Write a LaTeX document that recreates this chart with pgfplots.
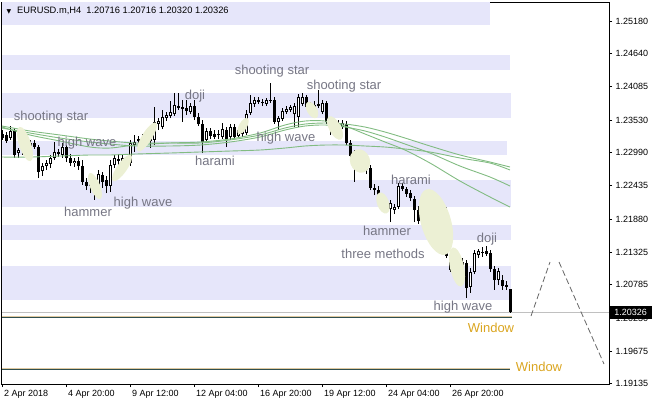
\documentclass[border=0pt]{standalone}
\usepackage{fontspec}
\setmainfont{Liberation Sans}
\newfontfamily\dejavu{DejaVu Sans}
\usepackage{pgfplots}
\pgfplotsset{compat=1.18}
\usepackage{pgfplotstable}

\definecolor{band}{RGB}{230,230,250}
\definecolor{patch}{RGB}{236,240,212}
\definecolor{maline}{RGB}{130,188,130}
\definecolor{lbl}{RGB}{118,118,132}
\definecolor{win}{RGB}{218,165,32}
\definecolor{wintan}{RGB}{222,200,160}
\definecolor{windark}{RGB}{47,79,79}
\definecolor{pline}{RGB}{192,192,192}

% H4 bars: index, open, high, low, close
\pgfplotstableread{
i o h l c
0 1.23297 1.23363 1.23197 1.23230
1 1.23280 1.23330 1.23147 1.23180
2 1.23230 1.23430 1.23197 1.23347
3 1.23347 1.23397 1.22897 1.22947
4 1.22980 1.23063 1.22897 1.23030
5 1.23013 1.23097 1.22947 1.23063
6 1.23047 1.23097 1.22980 1.23013
7 1.23013 1.23197 1.22980 1.23147
8 1.23147 1.23197 1.23047 1.23080
9 1.23080 1.23113 1.22563 1.22663
10 1.22680 1.22813 1.22597 1.22763
11 1.22763 1.22863 1.22697 1.22813
12 1.22797 1.22947 1.22730 1.22897
13 1.22897 1.23163 1.22863 1.22997
14 1.22997 1.23047 1.22913 1.22963
15 1.22947 1.23147 1.22897 1.23080
16 1.23080 1.23113 1.22830 1.22897
17 1.22897 1.22963 1.22763 1.22813
18 1.22813 1.22897 1.22747 1.22847
19 1.22847 1.22913 1.22697 1.22763
20 1.22763 1.22863 1.22447 1.22497
21 1.22497 1.22563 1.22363 1.22430
22 1.22430 1.22513 1.22313 1.22463
23 1.22397 1.22497 1.22197 1.22430
24 1.22447 1.22697 1.22397 1.22630
25 1.22613 1.22663 1.22397 1.22497
26 1.22530 1.22597 1.22313 1.22430
27 1.22430 1.22863 1.22330 1.22780
28 1.22780 1.22947 1.22730 1.22897
29 1.22880 1.22963 1.22763 1.22847
30 1.22847 1.22947 1.22613 1.22897
31 1.22763 1.22897 1.22697 1.22863
32 1.22813 1.23197 1.22763 1.23147
33 1.23113 1.23280 1.22997 1.23163
34 1.23180 1.23263 1.23097 1.23213
35 1.23197 1.23297 1.23113 1.23247
36 1.23247 1.23313 1.23130 1.23197
37 1.23230 1.23297 1.23063 1.23180
38 1.23197 1.23747 1.23113 1.23497
39 1.23463 1.23563 1.23363 1.23513
40 1.23413 1.23697 1.23380 1.23580
41 1.23563 1.23663 1.23513 1.23613
42 1.23597 1.23847 1.23563 1.23663
43 1.23630 1.23980 1.23597 1.23780
44 1.23763 1.23980 1.23697 1.23730
45 1.23747 1.23863 1.23497 1.23713
46 1.23730 1.23863 1.23613 1.23680
47 1.23663 1.23813 1.23630 1.23763
48 1.23763 1.23863 1.23530 1.23580
49 1.23580 1.23647 1.23430 1.23463
50 1.23463 1.23530 1.22980 1.23163
51 1.23197 1.23397 1.23147 1.23347
52 1.23347 1.23397 1.23213 1.23263
53 1.23297 1.23363 1.23213 1.23247
54 1.23280 1.23363 1.23213 1.23297
55 1.23247 1.23480 1.23213 1.23380
56 1.23363 1.23413 1.23080 1.23213
57 1.23247 1.23463 1.23197 1.23413
58 1.23413 1.23463 1.23213 1.23247
59 1.23263 1.23413 1.23230 1.23363
60 1.23297 1.23463 1.23247 1.23397
61 1.23313 1.23697 1.23280 1.23630
62 1.23647 1.23947 1.23613 1.23813
63 1.23797 1.23913 1.23747 1.23863
64 1.23863 1.23913 1.23797 1.23830
65 1.23830 1.23880 1.23763 1.23813
66 1.23797 1.23897 1.23763 1.23863
67 1.23847 1.24147 1.23813 1.23863
68 1.23863 1.23913 1.23463 1.23497
69 1.23497 1.23597 1.23363 1.23563
70 1.23547 1.23730 1.23513 1.23680
71 1.23663 1.23763 1.23630 1.23713
72 1.23697 1.23780 1.23663 1.23747
73 1.23630 1.23813 1.23413 1.23763
74 1.23580 1.23963 1.23413 1.23913
75 1.23797 1.23980 1.23763 1.23913
76 1.23913 1.23947 1.23713 1.23747
77 1.23797 1.23830 1.23697 1.23730
78 1.23730 1.23847 1.23697 1.23780
79 1.23797 1.24030 1.23730 1.23763
80 1.23663 1.23863 1.23630 1.23813
81 1.23813 1.23847 1.23463 1.23497
82 1.23497 1.23563 1.23280 1.23447
83 1.23463 1.23547 1.23397 1.23480
84 1.23480 1.23530 1.23397 1.23447
85 1.23413 1.23530 1.23380 1.23480
86 1.23463 1.23513 1.23113 1.23147
87 1.23147 1.23197 1.22897 1.22930
88 1.22913 1.23030 1.22497 1.22980
89 1.22963 1.22997 1.22830 1.22863
90 1.22863 1.22913 1.22663 1.22713
91 1.22713 1.22780 1.22630 1.22697
92 1.22730 1.22780 1.22363 1.22397
93 1.22397 1.22463 1.22280 1.22363
94 1.22363 1.22430 1.22147 1.22180
95 1.22163 1.22230 1.22063 1.22113
96 1.22080 1.22180 1.22013 1.22147
97 1.22047 1.22197 1.21830 1.22147
98 1.22030 1.22130 1.21963 1.22080
99 1.22080 1.22480 1.22047 1.22430
100 1.22430 1.22480 1.22347 1.22380
101 1.22380 1.22413 1.22247 1.22297
102 1.22313 1.22363 1.22180 1.22230
103 1.22213 1.22263 1.21830 1.22030
104 1.22030 1.22097 1.21797 1.21847
105 1.21863 1.21947 1.21747 1.21830
106 1.21847 1.21897 1.21647 1.21680
107 1.21697 1.21797 1.21580 1.21630
108 1.21647 1.21763 1.21597 1.21730
109 1.21713 1.21830 1.21680 1.21780
110 1.21730 1.22063 1.21697 1.21997
111 1.22030 1.22080 1.21230 1.21263
112 1.21263 1.21330 1.20997 1.21030
113 1.21030 1.21130 1.20997 1.21080
114 1.21063 1.21163 1.21013 1.21113
115 1.21063 1.21230 1.21030 1.21163
116 1.21147 1.21197 1.20563 1.20730
117 1.20747 1.21063 1.20647 1.20997
118 1.20997 1.21363 1.20963 1.21313
119 1.21280 1.21380 1.21230 1.21347
120 1.21313 1.21413 1.21247 1.21330
121 1.21347 1.21430 1.21263 1.21297
122 1.21313 1.21363 1.20997 1.21047
123 1.21047 1.21097 1.20697 1.20863
124 1.20863 1.21063 1.20780 1.21013
125 1.20863 1.20947 1.20697 1.20763
126 1.20780 1.20847 1.20697 1.20747
127 1.20716 1.20716 1.20320 1.20326
}\candles

% pattern highlights: centre, radii (pt), tilt
\pgfplotstableread{
x y rx ry ang
25 1.23130 18 6 -72
95 1.22430 14 5 -68
122 1.22730 16 5 55
147 1.23247 17 5 58
243 1.23430 9 4 60
312 1.23697 9 5 -60
335 1.23397 13 6 -62
360 1.22847 12 10 -70
383 1.22147 11 6 -70
436 1.21830 34 15 -74
457 1.21080 20 7 -78
}\patches

% moving averages
\pgfplotstableread{
x a b c s
2 1.23430 1.23397 1.23413 1.22913
30 1.23347 1.23313 1.23280 1.22913
60 1.23280 1.23230 1.23180 1.22930
90 1.23213 1.23163 1.23080 1.22947
110 1.23180 1.23130 1.23063 1.22947
135 1.23147 1.23097 1.23113 1.22963
170 1.23147 1.23097 1.23147 1.22980
200 1.23147 1.23113 1.23163 1.22997
230 1.23197 1.23163 1.23213 1.23013
260 1.23280 1.23247 1.23313 1.23030
285 1.23397 1.23363 1.23447 1.23063
305 1.23463 1.23430 1.23513 1.23097
325 1.23480 1.23447 1.23513 1.23113
345 1.23463 1.23413 1.23430 1.23113
365 1.23413 1.23347 1.23297 1.23097
385 1.23330 1.23247 1.23163 1.23080
405 1.23230 1.23130 1.23030 1.23047
430 1.23097 1.22980 1.22813 1.22997
460 1.22947 1.22763 1.22513 1.22897
490 1.22830 1.22580 1.22247 1.22813
510 1.22747 1.22430 1.22080 1.22697
}\mas

\pgfdeclareplotmark{blob}{%
  \pgfpathellipse{\pgfpointorigin}{\pgfpoint{\blobrx pt}{0pt}}{\pgfpoint{0pt}{\blobry pt}}%
  \pgfusepathqfill}

\tikzset{lab/.style={text=lbl, font=\fontsize{13}{15}\selectfont, inner sep=0pt}}

\begin{document}
\begin{tikzpicture}
\useasboundingbox (0,0) rectangle (652pt,408pt);
\begin{axis}[
  at={(2pt,24pt)}, anchor=south west,
  scale only axis, width=607pt, height=382pt,
  xmin=2, xmax=609, ymin=1.1913, ymax=1.25497,
  axis line style={line width=1pt},
  tick align=outside, major tick length=3pt,
  tick style={black, line width=1pt},
  xtick pos=bottom, ytick pos=right,
  ytick={1.25180,1.24640,1.24085,1.23530,1.22990,1.22435,1.21880,1.21325,1.20785,1.20230,1.19675,1.19135},
  yticklabels={1.25180,1.24640,1.24085,1.23530,1.22990,1.22435,1.21880,1.21325,1.20785,1.20230,1.19675,1.19135},
  yticklabel style={font=\fontsize{9}{10}\selectfont, anchor=west},
  xtick={2.5,66.5,130.5,194.5,258.5,322.5,386.5,450.5},
  xticklabels={2 Apr 2018,4 Apr 20:00,9 Apr 12:00,12 Apr 04:00,16 Apr 20:00,19 Apr 12:00,24 Apr 04:00,26 Apr 20:00},
  xticklabel style={font=\fontsize{9}{10}\selectfont, anchor=north west, xshift=-2pt},
  candle/.style={draw=none, mark=none, forget plot,
    error bars/y dir=plus, error bars/y explicit, error bars/error mark=none},
]
% support / resistance zones
\addplot[fill=band, draw=none] coordinates {(2,1.25497) (490,1.25497) (490,1.25113) (2,1.25113)} --cycle;
\addplot[fill=band, draw=none] coordinates {(2,1.24613) (510,1.24613) (510,1.24363) (2,1.24363)} --cycle;
\addplot[fill=band, draw=none] coordinates {(2,1.23980) (511,1.23980) (511,1.23563) (2,1.23563)} --cycle;
\addplot[fill=band, draw=none] coordinates {(2,1.23180) (507,1.23180) (507,1.22947) (2,1.22947)} --cycle;
\addplot[fill=band, draw=none] coordinates {(2,1.22530) (511,1.22530) (511,1.22080) (2,1.22080)} --cycle;
\addplot[fill=band, draw=none] coordinates {(2,1.21780) (511,1.21780) (511,1.21530) (2,1.21530)} --cycle;
\addplot[fill=band, draw=none] coordinates {(2,1.21097) (511,1.21097) (511,1.20530) (2,1.20530)} --cycle;

% pattern highlights
\addplot[scatter, only marks, mark=blob,
  scatter/use mapped color={draw=patch, fill=patch},
  visualization depends on={\thisrow{rx}\as\blobrx},
  visualization depends on={\thisrow{ry}\as\blobry},
  visualization depends on={\thisrow{ang}\as\blobang},
  scatter/@pre marker code/.append code={\pgftransformrotate{\blobang}},
] table[x=x, y=y] {\patches};

% bid line and window gaps
\addplot[pline, line width=1pt] coordinates {(2,1.20326) (609,1.20326)};
\addplot[wintan, line width=1pt] coordinates {(2,1.20255) (512,1.20255)};
\addplot[windark, line width=1pt] coordinates {(2,1.20238) (512,1.20238)};
\addplot[wintan, line width=1pt] coordinates {(2,1.19388) (510,1.19388)};
\addplot[windark, line width=1pt] coordinates {(2,1.19372) (510,1.19372)};

% candles: wicks, bodies, hollow up bodies
\addplot[candle, error bars/error bar style={draw=black, line width=1pt}]
  table[x expr=2.5+4*\thisrow{i}, y=l, y error plus expr=\thisrow{h}-\thisrow{l}] {\candles};
\addplot[candle, error bars/error bar style={draw=black, line width=3pt}]
  table[x expr=2.5+4*\thisrow{i}, y expr={min(\thisrow{o},\thisrow{c})},
        y error plus expr={max(abs(\thisrow{c}-\thisrow{o}),0.00017)}] {\candles};
\addplot[candle, error bars/error bar style={draw=white, line width=1pt}]
  table[x expr=2.5+4*\thisrow{i}, y expr=\thisrow{o}+0.000167,
        y error plus expr={max(\thisrow{c}-\thisrow{o}-0.000333,0)}] {\candles};

% moving averages
\addplot[maline, line width=0.9pt, smooth, mark=none] table[x=x, y=a] {\mas};
\addplot[maline, line width=0.9pt, smooth, mark=none] table[x=x, y=b] {\mas};
\addplot[maline, line width=0.9pt, smooth, mark=none] table[x=x, y=c] {\mas};
\addplot[maline, line width=0.9pt, smooth, mark=none] table[x=x, y=s] {\mas};

% projection
\addplot[black!60, line width=0.8pt, dash pattern=on 6pt off 3pt] coordinates {(531,1.20263) (550,1.21163)};
\addplot[black!60, line width=0.8pt, dash pattern=on 6pt off 3pt] coordinates {(559,1.21163) (604,1.19463)};

% pattern names
\node[lab] at (axis cs:51,1.23580) {shooting star};
\node[lab] at (axis cs:195,1.23930) {doji};
\node[lab] at (axis cs:272,1.24347) {shooting star};
\node[lab] at (axis cs:344,1.24097) {shooting star};
\node[lab] at (axis cs:87,1.23147) {high wave};
\node[lab] at (axis cs:286,1.23230) {high wave};
\node[lab] at (axis cs:215,1.22847) {harami};
\node[lab] at (axis cs:88,1.21997) {hammer};
\node[lab] at (axis cs:143,1.22147) {high wave};
\node[lab] at (axis cs:411,1.22530) {harami};
\node[lab] at (axis cs:387,1.21680) {hammer};
\node[lab] at (axis cs:383,1.21297) {three methods};
\node[lab] at (axis cs:487,1.21547) {doji};
\node[lab] at (axis cs:463,1.20413) {high wave};
\node[lab, text=win] at (axis cs:491,1.20063) {Window};
\node[lab, text=win] at (axis cs:539,1.19413) {Window};

% header
\node[font=\dejavu\fontsize{6}{6}\selectfont, inner sep=0pt] at (axis cs:9,1.25330) {▼};
\node[anchor=west, font=\fontsize{9.3}{10}\selectfont, inner sep=0pt] at (axis cs:17,1.25347)
  {EURUSD.m,H4\ \ 1.20716 1.20716 1.20320 1.20326};

\coordinate (pbox) at (axis cs:609.5,1.20326);
\end{axis}
\node[fill=black, text=white, inner sep=0pt, minimum width=42pt, minimum height=13pt,
  anchor=west, font=\fontsize{9}{10}\selectfont] at (pbox) {1.20326};
\end{tikzpicture}
\end{document}
